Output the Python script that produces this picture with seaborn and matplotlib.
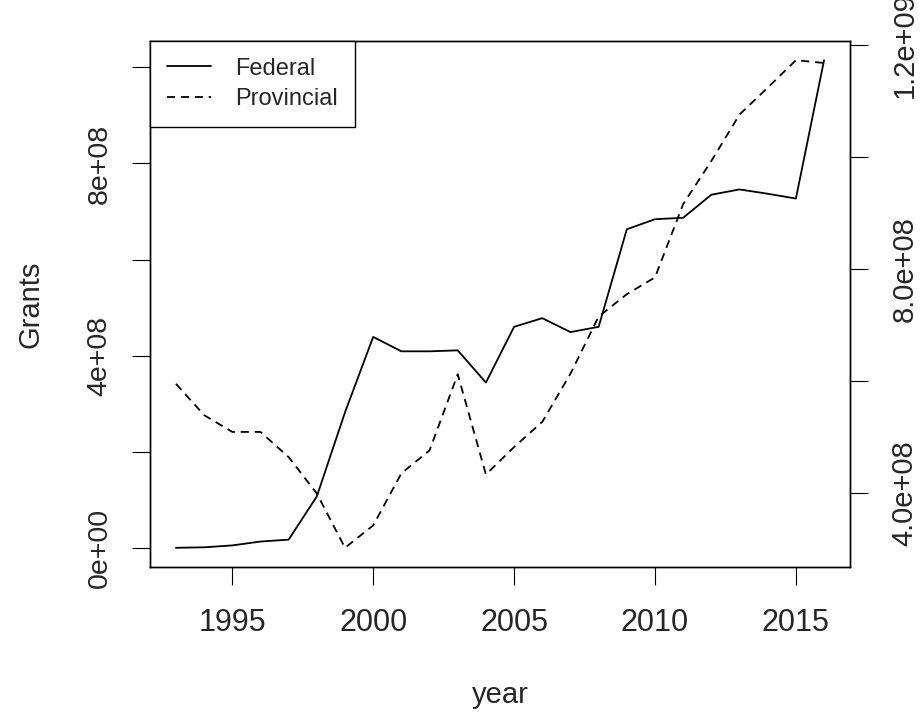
import numpy as np
import pandas as pd
import matplotlib
matplotlib.use("Agg")
import matplotlib.pyplot as plt
import seaborn as sns

# Annual grant totals
years = list(range(1993, 2017))
federal = [0.0, 0.01e8, 0.05e8, 0.13e8, 0.17e8, 1.07e8, 2.82e8, 4.39e8,
           4.09e8, 4.09e8, 4.11e8, 3.44e8, 4.60e8, 4.78e8, 4.49e8, 4.60e8,
           6.63e8, 6.84e8, 6.87e8, 7.35e8, 7.46e8, 7.37e8, 7.27e8, 10.15e8]
provincial = [5.95e8, 5.39e8, 5.09e8, 5.09e8, 4.64e8, 3.99e8, 3.02e8, 3.42e8,
              4.35e8, 4.76e8, 6.12e8, 4.33e8, 4.82e8, 5.27e8, 6.13e8, 7.15e8,
              7.55e8, 7.85e8, 9.16e8, 9.93e8, 10.76e8, 11.24e8, 11.73e8, 11.68e8]

x_ticks = [1995, 2000, 2005, 2010, 2015]
left_ticks = [0, 2e8, 4e8, 6e8, 8e8, 10e8]
left_labels = ["0e+00", "", "4e+08", "", "8e+08", ""]
right_ticks = [4e8, 6e8, 8e8, 10e8, 12e8]
right_labels = ["4.0e+08", "", "8.0e+08", "", "1.2e+09"]

df = pd.DataFrame({"year": years, "Federal": federal, "Provincial": provincial})

sns.set_theme(style="white")
plt.rcParams["font.family"] = ["Liberation Sans", "DejaVu Sans"]


def padded(vals, frac=0.04):
    lo, hi = min(vals), max(vals)
    r = hi - lo
    return lo - frac * r, hi + frac * r


W, H = 921, 715
fig = plt.figure(figsize=(W / 100, H / 100), dpi=100)
left, right, top, bottom = 150, 850, 40.7, 567.3
ax = fig.add_axes([left / W, 1 - bottom / H, (right - left) / W, (bottom - top) / H])
ax2 = ax.twinx()

sns.lineplot(data=df, x="year", y="Federal", ax=ax, color="black", lw=1.3)
sns.lineplot(data=df, x="year", y="Provincial", ax=ax2, color="black", lw=1.3)
ax2.lines[0].set_dashes([4.5, 3.2])

ax.set_xlim(*padded(years))
ax.set_ylim(*padded(federal))
ax2.set_ylim(*padded(provincial))

for a in (ax, ax2):
    a.set_xlabel("")
    a.set_ylabel("")
    for s in a.spines.values():
        s.set_color("black")
        s.set_linewidth(1.0)

ax.set_xticks(x_ticks)
ax.set_xticklabels([str(v) for v in x_ticks])
ax.set_yticks(left_ticks)
ax.set_yticklabels(left_labels)
ax2.set_yticks(right_ticks)
ax2.set_yticklabels(right_labels)

ax.tick_params(axis="x", direction="out", length=13, width=0.8, color="black",
               labelsize=22, pad=16, bottom=True)
ax.tick_params(axis="y", direction="out", length=13, width=0.8, color="black",
               labelsize=20.5, pad=14, labelrotation=90, left=True)
ax2.tick_params(axis="y", direction="out", length=13, width=0.8, color="black",
                labelsize=21, pad=16, labelrotation=90, right=True)
for lab in ax.get_yticklabels():
    lab.set_va("center")
for lab in ax2.get_yticklabels():
    lab.set_va("center")

fig.text(500 / W, 1 - 703 / H, "year", ha="center", va="baseline", fontsize=21)
fig.text(31 / W, 1 - 304 / H, "Grants", ha="center", va="center",
         rotation=90, fontsize=21)

handles = [ax.lines[0], ax2.lines[0]]
leg = ax2.legend(handles, ["Federal", "Provincial"], loc="upper left",
                 bbox_to_anchor=(0, 1), borderaxespad=0, fontsize=17,
                 frameon=True, fancybox=False, edgecolor="black",
                 framealpha=1, handlelength=1.85, handletextpad=1.05,
                 borderpad=0.72, labelspacing=0.36)
leg.get_frame().set_linewidth(1.0)

fig.savefig("out.png", dpi=100, facecolor="white")
